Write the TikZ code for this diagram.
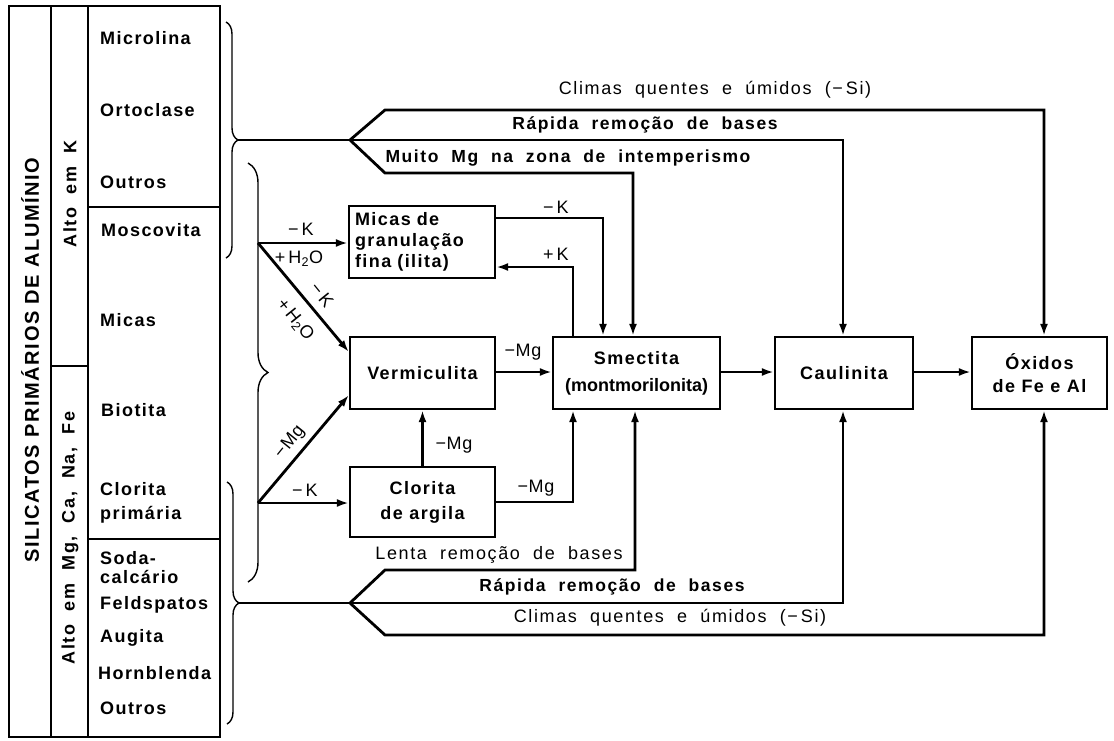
\documentclass[tikz,border=0pt]{standalone}
\usepackage{fontspec}
\setmainfont{Liberation Sans}[LetterSpace=8]
\newfontfamily\lblfont{Liberation Sans}[LetterSpace=9, WordSpace=2]
\usetikzlibrary{arrows.meta,decorations.pathreplacing}
\begin{document}
\begin{tikzpicture}[x=1pt,y=-1pt,
  every node/.style={inner sep=0pt, font=\fontsize{18}{21}\selectfont\bfseries},
  tbl/.style={line width=2.1pt},
  box/.style={draw, line width=2.2pt, minimum height=72pt},
  conn/.style={line width=2.8pt, line join=miter},
  arw/.style={conn, -{Latex[length=12pt,width=8pt]}},
  brc/.style={line width=1.4pt, decorate},
  lbl/.style={font=\fontsize{18}{20}\selectfont\lblfont},
  lblb/.style={font=\fontsize{17.5}{20}\selectfont\lblfont\bfseries},
  sm/.style={font=\fontsize{18}{20}\selectfont\addfontfeature{LetterSpace=4}},
]
\useasboundingbox (0,0) rectangle (1114,740);

% ---------- table ----------
\draw[tbl] (9,6) rectangle (220,737);
\draw[tbl] (51,6) -- (51,737);
\draw[tbl] (88,6) -- (88,737);
\draw[tbl] (51,366) -- (88,366);
\draw[tbl] (88,207) -- (220,207);
\draw[tbl] (88,539) -- (220,539);

\node[rotate=90, font=\fontsize{20}{24}\selectfont\bfseries] (sil) at (30,360) {SILICATOS PRIMÁRIOS DE ALUMÍNIO};
\node[rotate=90, font=\fontsize{18}{21}\selectfont\lblfont\bfseries] (altok) at (70,194) {Alto em K};
\node[rotate=90, font=\fontsize{18}{21}\selectfont\lblfont\bfseries] (altomg) at (70,538) {Alto em Mg, Ca, Na, Fe};

\node[anchor=west] (t1) at (100,38) {Microlina};
\node[anchor=west] (t2) at (100,110) {Ortoclase};
\node[anchor=west] (t3) at (100,182) {Outros};
\node[anchor=west] (t4) at (101,230) {Moscovita};
\node[anchor=west] (t5) at (100,320) {Micas};
\node[anchor=west] (t6) at (101,410) {Biotita};
\node[anchor=west, align=left] (t7) at (100,503) {Clorita\\[3pt]primária};
\node[anchor=west, align=left, font=\fontsize{18}{19}\selectfont\bfseries] (t8) at (100,568) {Soda-\\calcário};
\node[anchor=west] (t9) at (100,605) {Feldspatos};
\node[anchor=west] (t10) at (100,638) {Augita};
\node[anchor=west] (t11) at (98,673) {Hornblenda};
\node[anchor=west] (t12) at (100,708) {Outros};

% ---------- braces ----------
\draw[brc, decoration={brace, amplitude=12pt}] (226,22) -- (226,258);
\draw[brc, decoration={brace, amplitude=20pt}] (248,163) -- (248,582);
\draw[brc, decoration={brace, amplitude=12pt}] (227,482) -- (227,724);

\coordinate (b1) at (238,140);
\coordinate (tb) at (350,140);
\coordinate (b3) at (239,603);
\coordinate (bb) at (350,603);
\coordinate (uL) at (258,243);
\coordinate (lL) at (258,503);

% ---------- boxes ----------
\node[box, minimum width=146pt, text width=134pt, inner xsep=6pt, align=left] (micas) at (422,242) {Micas de\\granulação\\fina (ilita)};
\node[box, minimum width=145pt] (verm) at (422.5,373) {Vermiculita};
\node[box, minimum width=145pt, minimum height=70pt, align=center] (clor) at (422.5,502) {Clorita\\[4pt]de argila};
\node[box, minimum width=167pt, align=center] (smec) at (636.5,373) {Smectita\\[6pt]\addfontfeature{LetterSpace=0}(montmorilonita)};
\node[box, minimum width=138pt] (caul) at (844,373) {Caulinita};
\node[box, minimum width=135pt, align=center] (oxid) at (1039.5,373) {Óxidos\\[2pt]de Fe e Al};

% ---------- top flows ----------
\draw[conn] (b1) -- (tb);
\draw[arw] (tb) -- (385,110) -- (1044,110) -- (1044,0 |- oxid.north);
\draw[arw] (tb) -- (843,140) -- (843,0 |- caul.north);
\draw[arw] (tb) -- (385,173) -- (633,173) -- (633,0 |- smec.north);
\node[lbl] (l1) at (715,90) {Climas quentes e úmidos (−\,Si)};
\node[lblb] (l2) at (645,125) {Rápida remoção de bases};
\node[lblb] (l3) at (568,158) {Muito Mg na zona de intemperismo};

% ---------- bottom flows ----------
\draw[conn] (b3) -- (bb);
\draw[arw] (bb) -- (385,570) -- (635,570) -- (635,0 |- smec.south);
\draw[arw] (bb) -- (843,603) -- (843,0 |- caul.south);
\draw[arw] (bb) -- (385,635) -- (1044,635) -- (1044,0 |- oxid.south);
\node[lbl] (l4) at (499,555) {Lenta remoção de bases};
\node[lblb] (l5) at (612,587) {Rápida remoção de bases};
\node[lbl] (l6) at (670,618) {Climas quentes e úmidos (−\,Si)};

% ---------- left branches ----------
\draw[arw] (uL) -- (micas.west |- uL);
\draw[arw] (uL) -- (verm.west |- 0,352);
\draw[arw] (lL) -- (verm.west |- 0,395);
\draw[arw] (lL) -- (clor.west |- lL);
\node[sm] (k1) at (301,229) {−\hspace{3pt}K};
\node[sm] (h1) at (299,259) {+\hspace{3pt}H\textsubscript{2}O};
\node[sm, rotate=-51] (k2) at (322,295) {−\hspace{3pt}K};
\node[sm, rotate=-51] (h2) at (295,320) {+\hspace{3pt}H\textsubscript{2}O};
\node[sm, rotate=51] (m1) at (290,442) {−Mg};
\node[sm] (k3) at (305,490) {−\hspace{3pt}K};

% ---------- internal arrows ----------
\draw[arw] (micas.east |- 0,218) -| (603,0 |- smec.north);
\draw[arw] (573,0 |- smec.north) |- (micas.east |- 0,267);
\draw[arw] (verm.east |- 0,372) -- (smec.west |- 0,372);
\draw[arw] (smec.east |- 0,372) -- (caul.west |- 0,372);
\draw[arw] (caul.east |- 0,372) -- (oxid.west |- 0,372);
\draw[arw] (clor.north) -- (verm.south);
\draw[arw] (clor.east) -| (573,0 |- smec.south);
\node[sm] (k4) at (556,207) {−\hspace{3pt}K};
\node[sm] (k5) at (556,254) {+\hspace{3pt}K};
\node[sm] (m2) at (523,352) {−Mg};
\node[sm] (m3) at (454,445) {−Mg};
\node[sm] (m4) at (536,488) {−Mg};
\end{tikzpicture}
\end{document}
